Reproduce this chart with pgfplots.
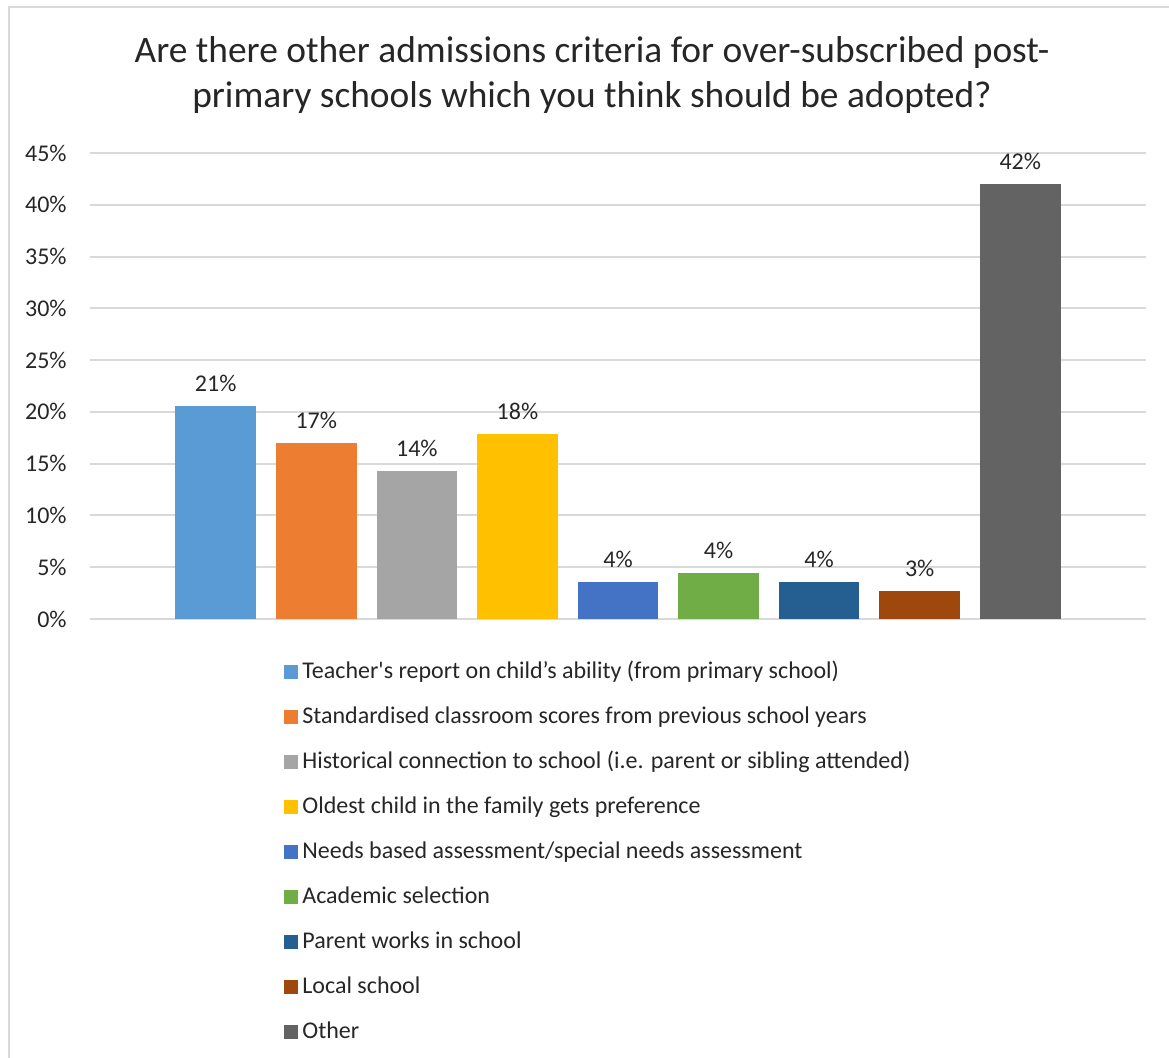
\documentclass[border=0pt]{standalone}
\usepackage{pgfplots}
\pgfplotsset{compat=1.18}
\usepackage{fontspec}
\setmainfont{Carlito}[Ligatures=TeXOff]
\definecolor{c1}{HTML}{5B9BD5}
\definecolor{c2}{HTML}{ED7D31}
\definecolor{c3}{HTML}{A5A5A5}
\definecolor{c4}{HTML}{FFC000}
\definecolor{c5}{HTML}{4472C4}
\definecolor{c6}{HTML}{70AD47}
\definecolor{c7}{HTML}{255E91}
\definecolor{c8}{HTML}{9E480E}
\definecolor{c9}{HTML}{636363}
\definecolor{gridc}{HTML}{D9D9D9}
\begin{document}
\begin{tikzpicture}
\useasboundingbox (-45pt,-219pt) rectangle (539.5pt,309.5pt);
\draw[gridc, line width=1pt] (-40.5pt,-230pt) -- (-40.5pt,306pt) -- (545pt,306pt);
\begin{axis}[
  at={(0,0)}, anchor=south west,
  scale only axis, width=528pt, height=233pt,
  xmin=-1.25, xmax=9.25, ymin=0, ymax=45,
  axis line style={draw=none},
  ytick={0,5,...,45},
  yticklabels={0\%,5\%,10\%,15\%,20\%,25\%,30\%,35\%,40\%,45\%},
  ytick pos=left,
  xtick=\empty,
  ymajorgrids, grid style={gridc, line width=1pt},
  major tick length=0pt,
  tick label style={font=\fontsize{12}{14}\selectfont, text=black!85},
  y tick label style={inner sep=0pt, xshift=-11.5pt},
  /pgf/number format/assume math mode=true,
  ybar, bar width=0.8, bar shift=0pt,
  nodes near coords={\pgfmathprintnumber[fixed,precision=0,assume math mode=true]{\pgfplotspointmeta}\%},
  every node near coord/.append style={font=\fontsize{12}{14}\selectfont, text=black!85, inner sep=0pt, anchor=south, yshift=7pt},
  legend cell align=left,
  legend style={at={(axis description cs:0.1837,-0.0880)}, anchor=north west, draw=none, fill=none,
    font=\fontsize{12}{14}\selectfont, text=black!85, row sep=10.5pt, inner sep=0pt,
    nodes={inner sep=0pt, text height=9pt, text depth=3pt},
    /tikz/every odd column/.append style={column sep=2pt}},
  legend image code/.code={\fill[#1, draw=none] (0pt,-3.5pt) rectangle (7pt,3.5pt);},
]
\addplot[fill=c1, draw=none] coordinates {(0,20.55)};
\addplot[fill=c2, draw=none] coordinates {(1,17.0)};
\addplot[fill=c3, draw=none] coordinates {(2,14.3)};
\addplot[fill=c4, draw=none] coordinates {(3,17.85)};
\addplot[fill=c5, draw=none] coordinates {(4,3.6)};
\addplot[fill=c6, draw=none] coordinates {(5,4.4)};
\addplot[fill=c7, draw=none] coordinates {(6,3.6)};
\addplot[fill=c8, draw=none] coordinates {(7,2.7)};
\addplot[fill=c9, draw=none] coordinates {(8,42.0)};
\legend{Teacher's report on child’s ability (from primary school),
Standardised classroom scores from previous school years,
Historical connection to school (i.e. parent or sibling attended),
Oldest child in the family gets preference,
Needs based assessment/special needs assessment,
Academic selection,
Parent works in school,
Local school,
Other}
\end{axis}
\node[align=center, font=\fontsize{18.7}{22.5}\selectfont, text=black!85] at (251pt,272pt)
 {Are there other admissions criteria for over-subscribed post-\\primary schools which you think should be adopted?};
\end{tikzpicture}
\end{document}
